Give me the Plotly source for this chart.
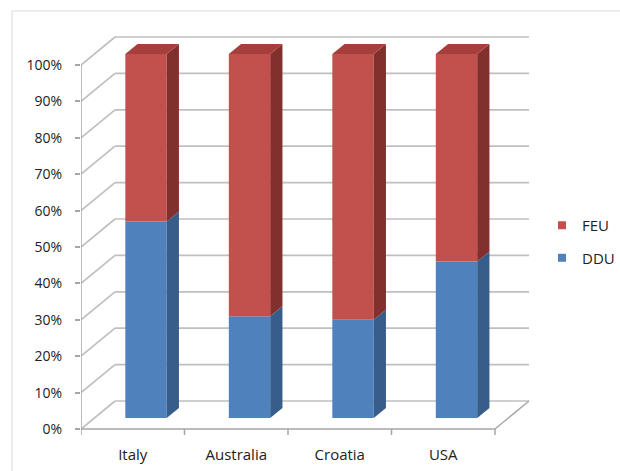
import plotly.graph_objects as go

# ---- data -------------------------------------------------------------
categories = ["Italy", "Australia", "Croatia", "USA"]
ddu_share = [0.54, 0.28, 0.27, 0.43]
feu_share = [0.46, 0.72, 0.73, 0.57]
y_tick_values = [i / 10 for i in range(11)]

# ---- canvas / projection settings -------------------------------------
W, H = 620, 471
M_L, M_R, M_T, M_B = 81, 0, 30, 30
PX_PER_CAT = 103.5          # horizontal pixels per category slot
PX_PER_UNIT = 364.0         # vertical pixels for 100 %
Y_BELOW = 12 / PX_PER_UNIT  # room under the floor for the category ticks

plot_w = W - M_L - M_R
plot_h = H - M_T - M_B
n = len(categories)
x_max = plot_w / PX_PER_CAT
y_max = plot_h / PX_PER_UNIT - Y_BELOW

DEPTH_DX = 34 / PX_PER_CAT   # oblique offset of the back wall
DEPTH_DY = 28 / PX_PER_UNIT
BAR_W = 0.40                 # bar width in category units
D_FRONT, D_BACK = 0.39, 0.75 # bar depth inside the box (0 = front, 1 = back)

GRID = "#bfbfbf"
AXIS = "#a6a6a6"
TEXT = "#222222"
FONT = "Open Sans"

colors = {
    "DDU": {"front": "#4f81bd", "side": "#375d8b", "top": "#4673aa"},
    "FEU": {"front": "#c2504d", "side": "#82302e", "top": "#a63f3c"},
}


def proj(x, v, d):
    """Oblique projection of (category x, value v, depth d) to axis units."""
    return x + d * DEPTH_DX, v + d * DEPTH_DY


def polygon(points):
    xs, ys = zip(*(proj(*p) for p in points))
    return list(xs) + [xs[0]], list(ys) + [ys[0]]


def line_shapes(points, color, width):
    out = []
    for a, b in zip(points[:-1], points[1:]):
        x0, y0 = proj(*a)
        x1, y1 = proj(*b)
        out.append(dict(type="line", xref="x", yref="y", x0=x0, y0=y0, x1=x1, y1=y1,
                        line=dict(color=color, width=width), layer="below"))
    return out


shapes = []
# back wall + left wall gridlines
for v in y_tick_values:
    shapes += line_shapes([(0, v, 0), (0, v, 1), (n, v, 1)], GRID, 1.7)
# floor edges, front value axis, category ticks
shapes += line_shapes([(0, 0, 0), (n, 0, 0), (n, 0, 1)], AXIS, 1.5)
shapes += line_shapes([(0, 0, 0), (0, 1, 0)], AXIS, 1.5)
for k in range(n + 1):
    shapes += line_shapes([(k, 0, 0), (k, -6 / PX_PER_UNIT, 0)], AXIS, 1.5)
# chart frame
shapes.append(dict(type="rect", xref="paper", yref="paper",
                   x0=(12 - M_L) / plot_w, x1=2, y0=-1, y1=(H - M_B - 11) / plot_h,
                   line=dict(color="#d9d9d9", width=1), fillcolor="rgba(0,0,0,0)", layer="below"))

fig = go.Figure()

# 3-D stacked columns
for i, cat in enumerate(categories):
    c = i + 0.5
    xl, xr = c - BAR_W / 2, c + BAR_W / 2
    base = 0.0
    stack = [("DDU", ddu_share[i]), ("FEU", feu_share[i])]
    for j, (name, val) in enumerate(stack):
        col = colors[name]
        top = base + val
        # front face
        fx, fb = proj(c, base, D_FRONT)
        fig.add_trace(go.Bar(x=[fx], y=[val], base=[fb], width=BAR_W,
                             marker=dict(color=col["front"], line=dict(width=0)),
                             name=name, showlegend=False,
                             hovertemplate=f"{cat}<br>{name}: {val:.0%}<extra></extra>"))
        # right side face
        sx, sy = polygon([(xr, base, D_FRONT), (xr, base, D_BACK),
                          (xr, top, D_BACK), (xr, top, D_FRONT)])
        fig.add_trace(go.Scatter(x=sx, y=sy, mode="lines", fill="toself",
                                 fillcolor=col["side"], line=dict(width=0, color=col["side"]),
                                 hoverinfo="skip", showlegend=False))
        # top face of the stack
        if j == len(stack) - 1:
            tx, ty = polygon([(xl, top, D_FRONT), (xr, top, D_FRONT),
                              (xr, top, D_BACK), (xl, top, D_BACK)])
            fig.add_trace(go.Scatter(x=tx, y=ty, mode="lines", fill="toself",
                                     fillcolor=col["top"], line=dict(width=0, color=col["top"]),
                                     hoverinfo="skip", showlegend=False))
        base = top

# legend entries
for name in ["FEU", "DDU"]:
    fig.add_trace(go.Scatter(x=[None], y=[None], mode="markers", name=name,
                             legendgroup=name,
                             marker=dict(symbol="square", size=8, color=colors[name]["front"])))

fig.update_layout(
    width=W, height=H,
    margin=dict(l=M_L, r=M_R, t=M_T, b=M_B, pad=0),
    paper_bgcolor="white", plot_bgcolor="rgba(0,0,0,0)",
    barmode="overlay",
    font=dict(family=FONT, size=14, color=TEXT),
    xaxis=dict(range=[0, x_max], tickvals=[i + 0.5 for i in range(n)], ticktext=categories,
               showgrid=False, zeroline=False, showline=False, ticks="",
               ticklabelstandoff=3, tickfont=dict(size=15), fixedrange=True),
    yaxis=dict(range=[-Y_BELOW, y_max], tickvals=y_tick_values, tickformat=".0%",
               showgrid=False, zeroline=False, showline=False,
               ticks="outside", ticklen=5, tickcolor=AXIS, tickwidth=1.5,
               ticklabelstandoff=10, fixedrange=True),
    legend=dict(x=1.0, y=(H - M_B - 209) / plot_h, xanchor="right", yanchor="top",
                font=dict(size=15, color=TEXT), tracegroupgap=10, itemwidth=30,
                bgcolor="rgba(0,0,0,0)"),
    shapes=shapes,
)

fig.write_html("out.html")
